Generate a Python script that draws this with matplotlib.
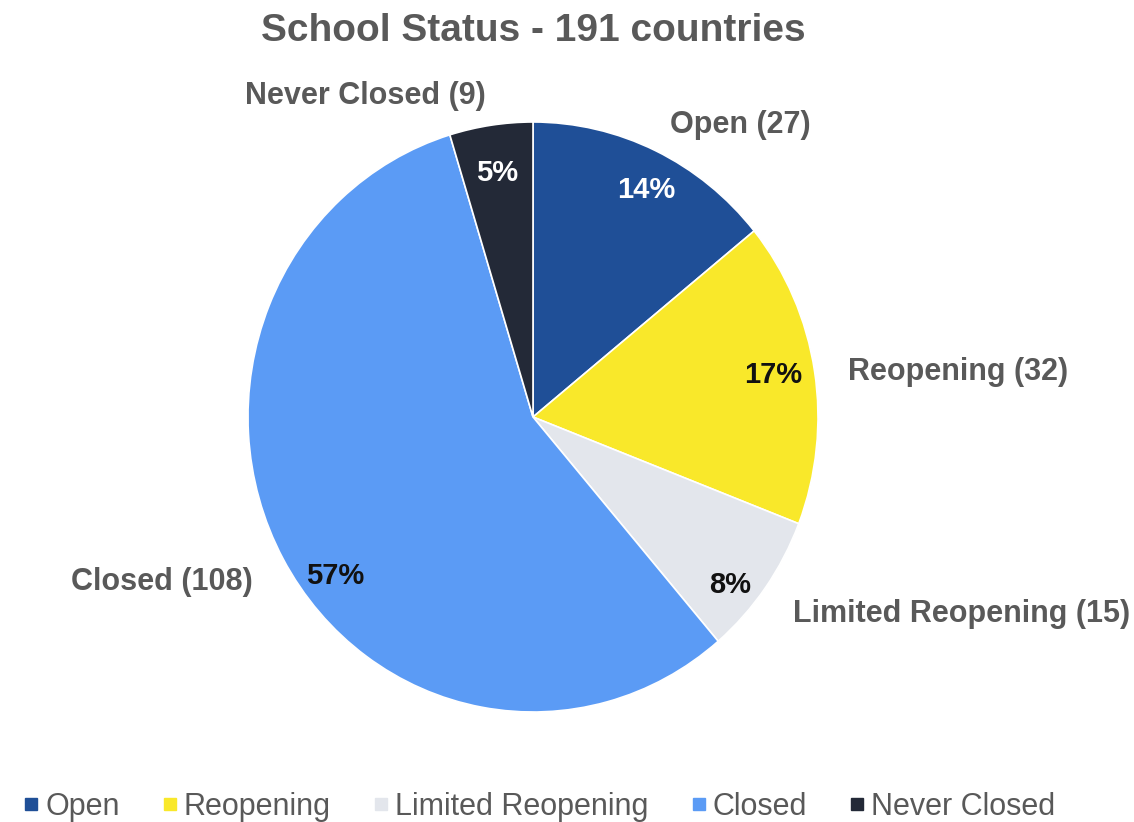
import matplotlib.pyplot as plt
from matplotlib.lines import Line2D
from matplotlib.transforms import ScaledTranslation

# data
categories = ["Open", "Reopening", "Limited Reopening", "Closed", "Never Closed"]
counts = [27, 32, 15, 108, 9]
colors = ["#1F4F97", "#F9E82A", "#E3E6EC", "#5B9BF5", "#232937"]
pct_colors = ["white", "#111111", "#111111", "#111111", "white"]
# small nudges (px) of the percent labels, the original tool does not put them exactly mid-wedge
pct_nudge = [(7, -5), (-5, 2), (-5, -20), (20, -36), (1, -10)]

plt.rcParams['font.family'] = ['Liberation Sans', 'DejaVu Sans']

W, H = 1134, 822
fig = plt.figure(figsize=(W / 100, H / 100), dpi=100)

# pie centre (533, 417) px, slightly taller than wide in the reference
cx, cy, rx, ry = 533, 417, 285, 295
ax = fig.add_axes([(cx - rx) / W, (H - cy - ry) / H, 2 * rx / W, 2 * ry / H])

labels = [f"{c} ({n})" for c, n in zip(categories, counts)]
wedges, texts, autotexts = ax.pie(
    counts, labels=labels, colors=colors, startangle=90, counterclock=False,
    autopct="%1.0f%%", pctdistance=0.87, labeldistance=1.12,
    wedgeprops=dict(edgecolor="white", linewidth=1.2),
    textprops=dict(fontsize=22, fontweight="bold", color="#595959"))

for t in texts:
    t.set_transform(ax.transData + ScaledTranslation(0, -6 / 100, fig.dpi_scale_trans))

for t, c, (dx, dy) in zip(autotexts, pct_colors, pct_nudge):
    t.set_color(c)
    t.set_fontsize(21)
    t.set_transform(ax.transData + ScaledTranslation(dx / 100, dy / 100, fig.dpi_scale_trans))

ax.set_xlim(-1, 1)
ax.set_ylim(-1, 1)
ax.set_aspect("auto")

fig.text(533 / W, 1 - 31 / H, "School Status - 191 countries", ha="center", va="center",
         fontsize=28, fontweight="bold", color="#595959")

handles = [Line2D([], [], marker="s", linestyle="", markersize=8, color=c) for c in colors]
fig.legend(handles, categories, loc="center", bbox_to_anchor=(538 / W, 1 - 807 / H), ncol=5,
           frameon=False, fontsize=22, handletextpad=0.1, columnspacing=1.3,
           labelcolor="#595959", handlelength=0.7)

fig.savefig("out.png", dpi=100)
